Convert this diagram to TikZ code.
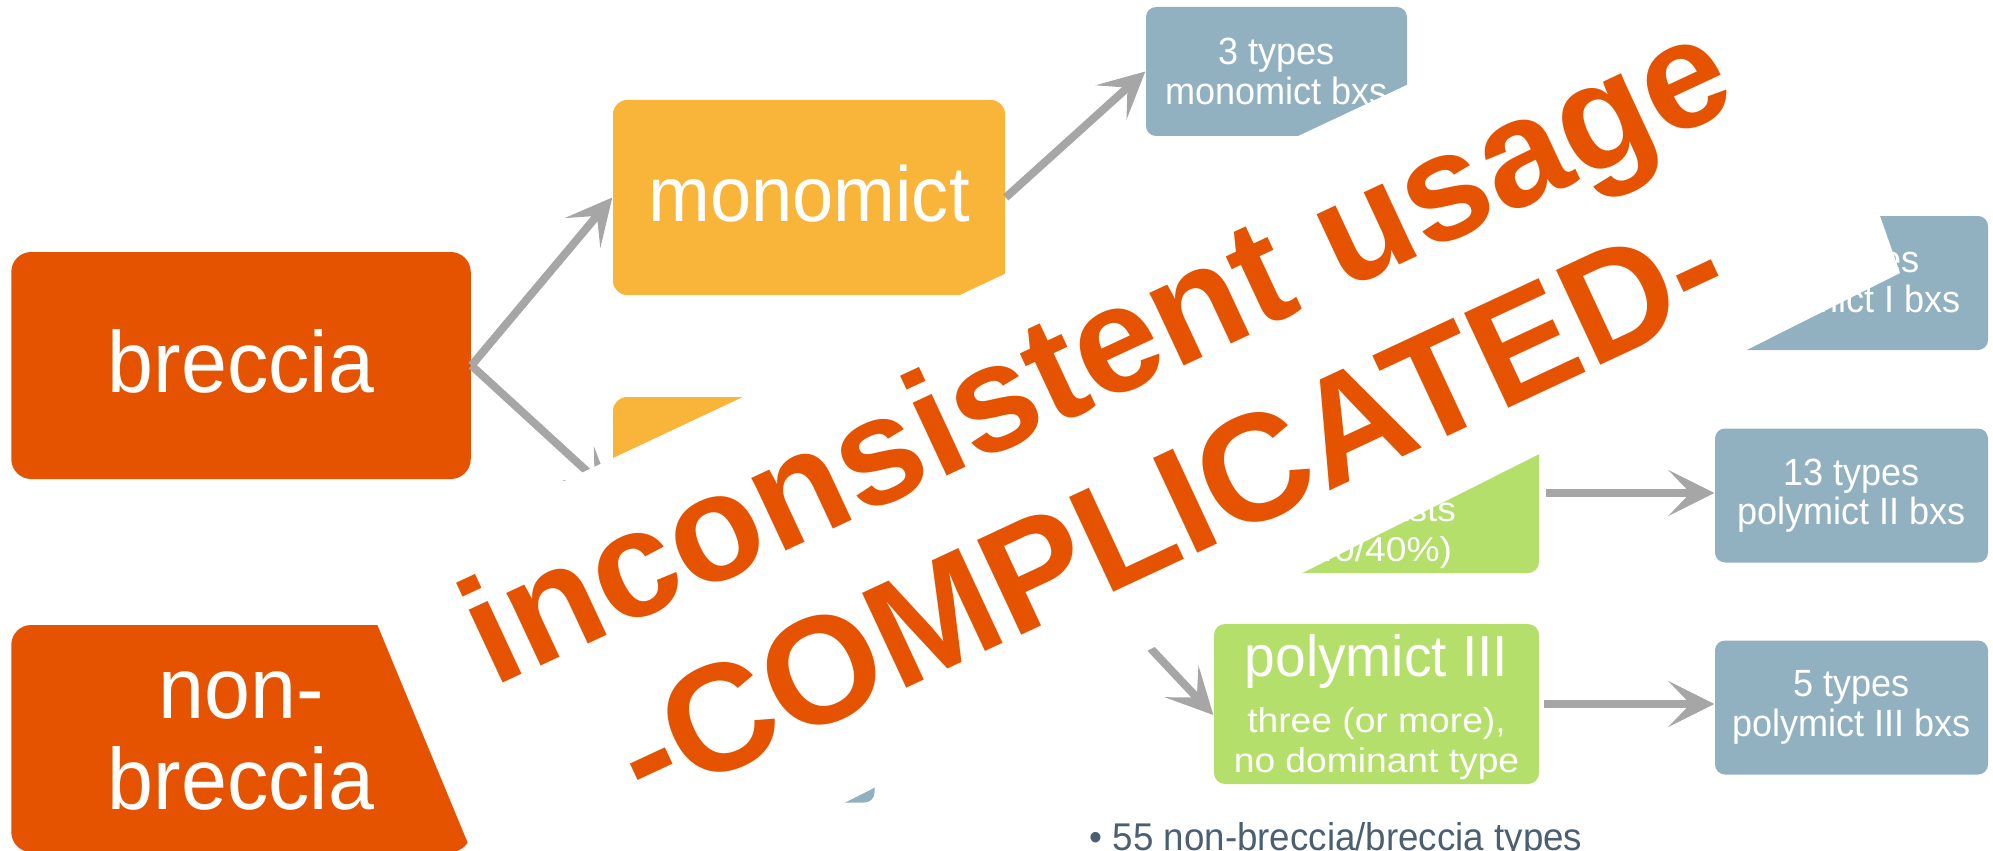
\documentclass[tikz,border=0pt]{standalone}
\usepackage{fontspec}
\setmainfont{Liberation Sans}[FakeStretch=0.95]
\newfontfamily\warnfont{Liberation Sans}
\newfontfamily\notefont{Liberation Sans}[FakeStretch=1.08]
\usetikzlibrary{arrows.meta}

\definecolor{rockorange}{HTML}{E55300}
\definecolor{clastyellow}{HTML}{F9B53A}
\definecolor{subgreen}{HTML}{B5DF6B}
\definecolor{countblue}{HTML}{91B1C1}
\definecolor{linkgrey}{HTML}{A6A6A6}
\definecolor{notegrey}{HTML}{4A6072}

\begin{document}
\begin{tikzpicture}[x=0.1mm, y=-0.1mm,
        box/.style = {inner sep=0pt, align=center, text=white},
        rock/.style = {box, fill=rockorange, rounded corners=2mm, minimum width=45.95mm, minimum height=22.7mm, font=\fontsize{24.75}{25.9}\selectfont},
        clast/.style = {box, fill=clastyellow, rounded corners=1.4mm, minimum width=39.2mm, minimum height=19.5mm, font=\fontsize{22.2}{24}\selectfont},
        sub/.style = {box, fill=subgreen, rounded corners=1.1mm, minimum width=32.5mm, minimum height=16mm, font=\notefont\fontsize{9.8}{11.4}\selectfont},
        count/.style = {box, fill=countblue, rounded corners=1mm, minimum width=27.3mm, minimum height=13.4mm, font=\fontsize{10.8}{11.25}\selectfont},
        link/.style = {-{Stealth[length=4.6mm, width=4.6mm, inset=2.2mm]}, line width=0.8mm, draw=linkgrey},
        warn/.style = {anchor=base, rotate=25, inner sep=0pt, text=rockorange, font=\warnfont\bfseries\fontsize{43.25}{50}\selectfont}]
        \useasboundingbox (0,0) rectangle (1993,851);
        \clip (0,0) rectangle (1993,851);

        \node[rock] (breccia) at (241,365.5) {\rule[-0.93mm]{0pt}{0.93mm}breccia};
        \node[rock] (nonbx) at (241,738.5) {\rule{0pt}{5.2mm}non-\\breccia};

        \node[clast] (mono) at (809,197.5) {\rule[-0.88mm]{0pt}{0.88mm}monomict};
        \node[clast] (poly) at (809,494.5) {};

        \node[sub] (polyII) at (1376.5,493) {{\rmfamily\fontsize{16.5}{17}\selectfont\rule{0pt}{4.85mm}polymict II}\\[4.5pt]\hspace*{6.4mm}clasts\\(40/40\%)};
        \node[sub] (polyIII) at (1376.5,704) {{\rmfamily\fontsize{16.5}{17}\selectfont\rule{0pt}{4.85mm}polymict III}\\[4.5pt]three (or more),\\no dominant type};

        \node[count, minimum width=26.1mm, minimum height=12.9mm] (monoT) at (1276.5,71.5) {3 types\\monomict bxs};
        \node[count] (polyIT) at (1851.5,283) {\phantom{00} types\\polymict I bxs};
        \node[count] (polyIIT) at (1851.5,495.5) {13 types\\polymict II bxs};
        \node[count] (polyIIIT) at (1851.5,707.5) {5 types\\polymict III bxs};
        \node[count] (nonbxT) at (738,735.5) {};

        \draw[link] (breccia.east) -- (mono.west);
        \draw[link] (breccia.east) -- (poly.west);
        \draw[link] (mono.east) -- (monoT.west);
        \draw[link] (poly.east) -- ([yshift=-1.1mm]polyIII.west);
        \draw[link, shorten <=0.6mm] (polyII.east) -- (polyII.east -| polyIIT.west);
        \draw[link, shorten <=0.4mm] (polyIII.east) -- (polyIII.east -| polyIIIT.west);

        \fill[white] (358,578) -- (1773.5,-87.4) -- (1900,273) -- (519,966) -- cycle;
        \node[warn] (warnA) at (1117,397) {inconsistent usage};
        \node[warn] (warnB) at (1191,556) {-COMPLICATED-};

        \node[anchor=base west, inner sep=0pt, text=notegrey, font=\fontsize{11}{12}\selectfont] (note) at (1089,850) {• 55 non-breccia/breccia types};
    \end{tikzpicture}
\end{document}
